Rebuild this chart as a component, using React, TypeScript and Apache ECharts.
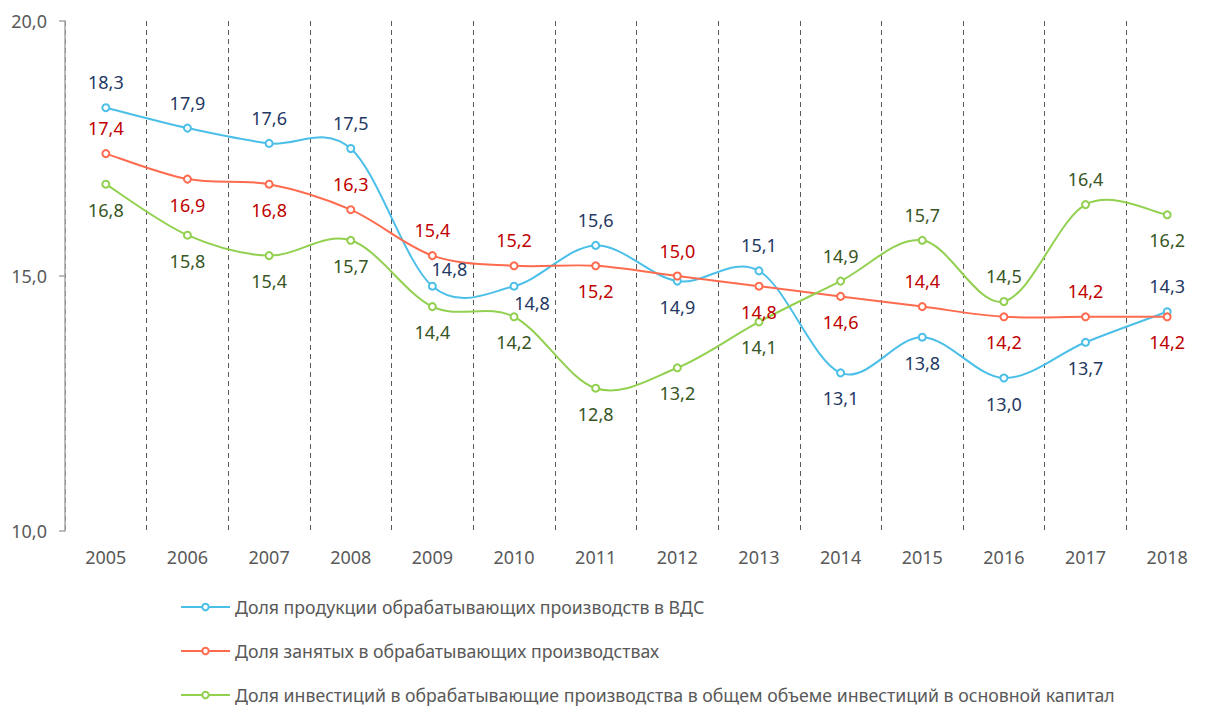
import React, { useEffect, useRef } from "react";
import * as echarts from "echarts";

const years = ["2005", "2006", "2007", "2008", "2009", "2010", "2011", "2012", "2013", "2014", "2015", "2016", "2017", "2018"];

const seriesNames = [
  "Доля продукции обрабатывающих производств в ВДС",
  "Доля занятых в обрабатывающих производствах",
  "Доля инвестиций в обрабатывающие производства в общем объеме инвестиций в основной капитал",
];

const vdsShare = [18.3, 17.9, 17.6, 17.5, 14.8, 14.8, 15.6, 14.9, 15.1, 13.1, 13.8, 13.0, 13.7, 14.3];
const employedShare = [17.4, 16.9, 16.8, 16.3, 15.4, 15.2, 15.2, 15.0, 14.8, 14.6, 14.4, 14.2, 14.2, 14.2];
const investShare = [16.8, 15.8, 15.4, 15.7, 14.4, 14.2, 12.8, 13.2, 14.1, 14.9, 15.7, 14.5, 16.4, 16.2];

// label placement (t = above, b = below)
const vdsLabelPos = ["t", "t", "t", "t", "t", "b", "t", "b", "t", "b", "b", "b", "b", "t"];
const employedLabelPos = ["t", "b", "b", "t", "t", "t", "b", "t", "b", "b", "t", "b", "t", "b"];
const investLabelPos = ["b", "b", "b", "b", "b", "b", "b", "b", "b", "t", "t", "t", "t", "b"];
const vdsLabelOffset: Record<number, [number, number]> = { 4: [17, 8], 5: [18, -9] };

const lineColors = ["#4BBFE8", "#FF6B4F", "#92D050"];
const labelColors = ["#1F3864", "#C00000", "#375623"];

const FONT = "'Noto Sans', 'Open Sans', sans-serif";
const fmt = (v: number) => v.toFixed(1).replace(".", ",");

function buildData(values: number[], pos: string[], offsets: Record<number, [number, number]> = {}) {
  return values.map((v, i) => ({
    value: v,
    label: {
      position: pos[i] === "t" ? "top" : "bottom",
      offset: offsets[i] || [0, 0],
    },
  }));
}

// Excel-like smooth curve segment (Catmull-Rom style bezier, factor 1/6)
function makeCurveRenderer(values: number[], color: string) {
  return (params: any, api: any) => {
    const i = params.dataIndex;
    const n = values.length;
    if (i >= n - 1) return null;
    const p = (k: number) => api.coord([Math.max(0, Math.min(n - 1, k)), values[Math.max(0, Math.min(n - 1, k))]]);
    const p0 = p(i - 1), p1 = p(i), p2 = p(i + 1), p3 = p(i + 2);
    const f = 1 / 6;
    return {
      type: "bezierCurve",
      shape: {
        x1: p1[0], y1: p1[1],
        x2: p2[0], y2: p2[1],
        cpx1: p1[0] + (p2[0] - p0[0]) * f,
        cpy1: p1[1] + (p2[1] - p0[1]) * f,
        cpx2: p2[0] - (p3[0] - p1[0]) * f,
        cpy2: p2[1] - (p3[1] - p1[1]) * f,
      },
      style: { stroke: color, lineWidth: 2, fill: "none" },
      silent: true,
    };
  };
}

export default function App() {
  const ref = useRef<HTMLDivElement>(null);
  useEffect(() => {
    if (!ref.current) return;
    const chart = echarts.init(ref.current, undefined, { renderer: "svg" });
    const allValues = [vdsShare, employedShare, investShare];
    const allPos = [vdsLabelPos, employedLabelPos, investLabelPos];
    const allOffsets = [vdsLabelOffset, {}, {}];

    const curveSeries = allValues.map((vals, k) => ({
      name: "curve" + k,
      type: "custom",
      renderItem: makeCurveRenderer(vals, lineColors[k]),
      data: vals.map((v, i) => [i, v]),
      z: 2,
      silent: true,
    }));

    const pointSeries = seriesNames.map((name, k) => ({
      name,
      type: "line",
      symbol: "emptyCircle",
      symbolSize: 7,
      z: 3,
      lineStyle: { color: lineColors[k], width: 2, opacity: 0 },
      itemStyle: { color: lineColors[k], borderWidth: 1.5 },
      label: {
        show: true,
        distance: 12,
        color: labelColors[k],
        fontSize: 18,
        fontFamily: FONT,
        formatter: (p: any) => fmt(p.value),
      },
      data: buildData(allValues[k], allPos[k], allOffsets[k]),
    }));

    chart.setOption({
      animation: false,
      textStyle: { fontFamily: FONT },
      grid: { left: 65, right: -5, top: 21, bottom: 176, containLabel: false },
      legend: {
        orient: "vertical",
        left: 180,
        top: 598,
        padding: 0,
        itemWidth: 49,
        itemHeight: 8,
        itemGap: 26,
        lineStyle: { opacity: 1, width: 2 },
        textStyle: { fontSize: 17.7, color: "#595959", fontFamily: FONT },
        data: seriesNames,
      },
      xAxis: {
        type: "category",
        data: years,
        boundaryGap: true,
        axisLine: { show: false },
        axisTick: { show: false },
        axisLabel: { color: "#595959", fontSize: 18, margin: 17, fontFamily: FONT },
        splitLine: {
          show: true,
          lineStyle: { color: "#595959", type: [5, 4], width: 1 },
        },
      },
      yAxis: {
        type: "value",
        min: 10,
        max: 20,
        interval: 5,
        axisLine: { show: true, lineStyle: { color: "#A6A6A6", width: 1.5 } },
        axisTick: { show: true, length: 6, lineStyle: { color: "#A6A6A6", width: 1.5 } },
        splitLine: { show: false },
        axisLabel: { color: "#595959", fontSize: 18, margin: 18, fontFamily: FONT, formatter: (v: number) => fmt(v) },
      },
      series: [...curveSeries, ...pointSeries],
    });
    return () => chart.dispose();
  }, []);
  return <div ref={ref} style={{ position: "absolute", left: 0, top: 0, width: 1208, height: 707 }} />;
}
